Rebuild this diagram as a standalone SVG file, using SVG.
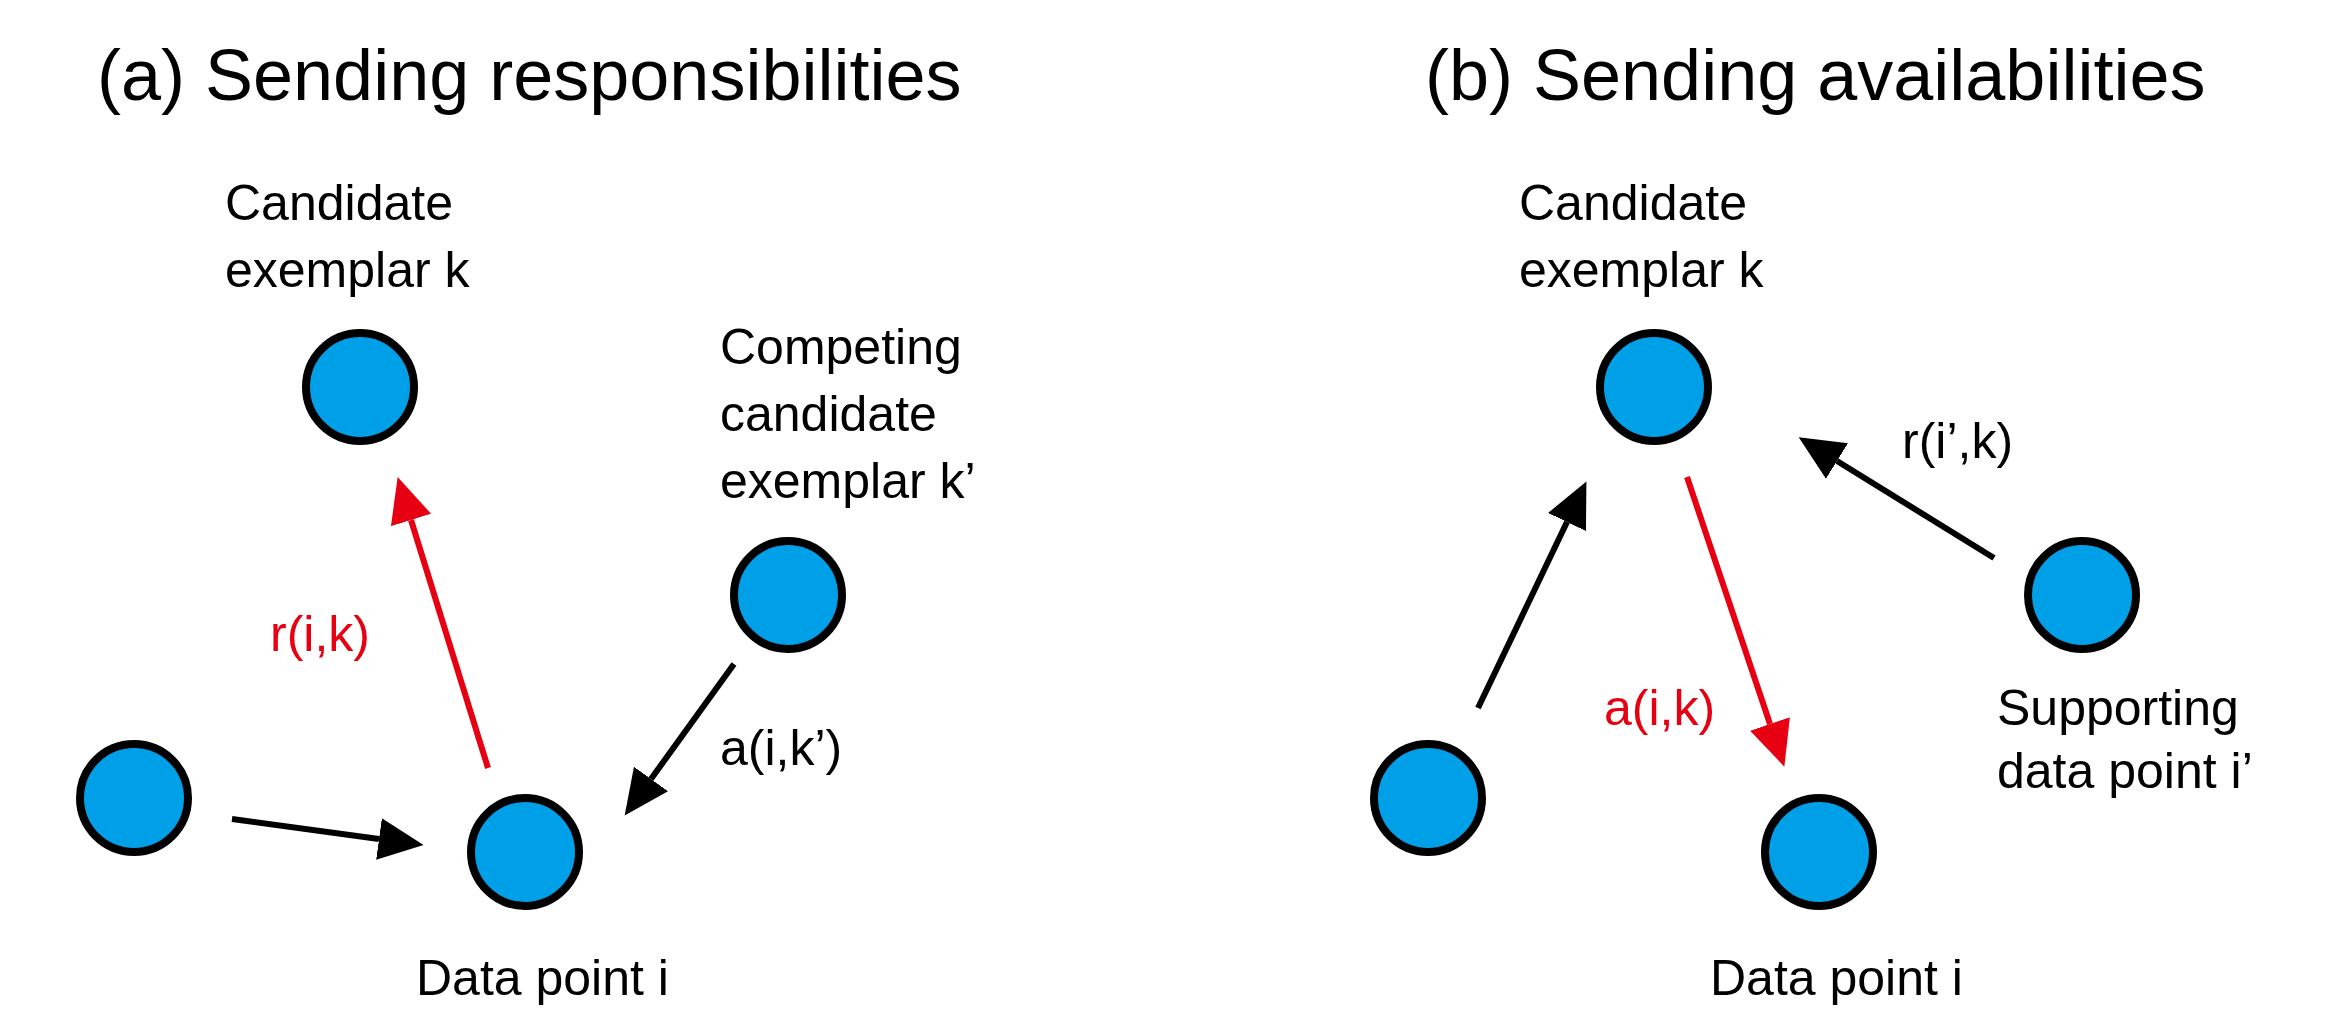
<svg xmlns="http://www.w3.org/2000/svg" width="2326" height="1035" viewBox="0 0 2326 1035">
<style>
text{font-family:"Liberation Sans",Arial,sans-serif;fill:#000}
.t{font-size:72px}
.l{font-size:50px}
.red{fill:#E60012}
.n{fill:#00A0E9;stroke:#000;stroke-width:8}
.c{stroke-width:6;fill:none}
.k{stroke:#000}
.r{stroke:#E60012}
</style>
<defs>
<marker id="ak" markerUnits="userSpaceOnUse" markerWidth="50" markerHeight="44" refX="0" refY="21" orient="auto"><path d="M0,0 L45,21 L0,42 Z" fill="#000"/></marker>
<marker id="ar" markerUnits="userSpaceOnUse" markerWidth="50" markerHeight="44" refX="0" refY="21" orient="auto"><path d="M0,0 L45,21 L0,42 Z" fill="#E60012"/></marker>
</defs>
<rect width="2326" height="1035" fill="#fff"/>
<text class="t" x="97" y="100">(a) Sending responsibilities</text>
<text class="t" x="1425" y="100">(b) Sending availabilities</text>
<g id="connectors">
<line class="c r" x1="488" y1="768" x2="411" y2="520" marker-end="url(#ar)"/>
<line class="c k" x1="232" y1="819" x2="379" y2="839" marker-end="url(#ak)"/>
<line class="c k" x1="734" y1="664" x2="651" y2="779" marker-end="url(#ak)"/>
<line class="c k" x1="1478" y1="708" x2="1567" y2="522" marker-end="url(#ak)"/>
<line class="c r" x1="1687" y1="477" x2="1770" y2="724" marker-end="url(#ar)"/>
<line class="c k" x1="1994" y1="558" x2="1837" y2="461" marker-end="url(#ak)"/>
<text class="l red" x="270" y="651">r(i,k)</text>
<text class="l" x="720" y="765">a(i,k’)</text>
<text class="l red" x="1604" y="725">a(i,k)</text>
<text class="l" x="1902" y="458">r(i’,k)</text>
</g>
<g id="a-candidate"><circle class="n" cx="360" cy="387" r="54"/><text class="l" x="225" y="220">Candidate</text><text class="l" x="225" y="287">exemplar k</text></g>
<g id="a-competing"><circle class="n" cx="788" cy="595" r="54"/><text class="l" x="720" y="364">Competing</text><text class="l" x="720" y="431">candidate</text><text class="l" x="720" y="498">exemplar k’</text></g>
<g id="a-other"><circle class="n" cx="134" cy="798" r="54"/></g>
<g id="a-datapoint"><circle class="n" cx="525" cy="852" r="54"/><text class="l" x="416" y="995">Data point i</text></g>
<g id="b-candidate"><circle class="n" cx="1654" cy="387" r="54"/><text class="l" x="1519" y="220">Candidate</text><text class="l" x="1519" y="287">exemplar k</text></g>
<g id="b-supporting"><circle class="n" cx="2082" cy="595" r="54"/><text class="l" x="1997" y="725">Supporting</text><text class="l" x="1997" y="788">data point i’</text></g>
<g id="b-other"><circle class="n" cx="1428" cy="798" r="54"/></g>
<g id="b-datapoint"><circle class="n" cx="1819" cy="852" r="54"/><text class="l" x="1710" y="995">Data point i</text></g>
</svg>
